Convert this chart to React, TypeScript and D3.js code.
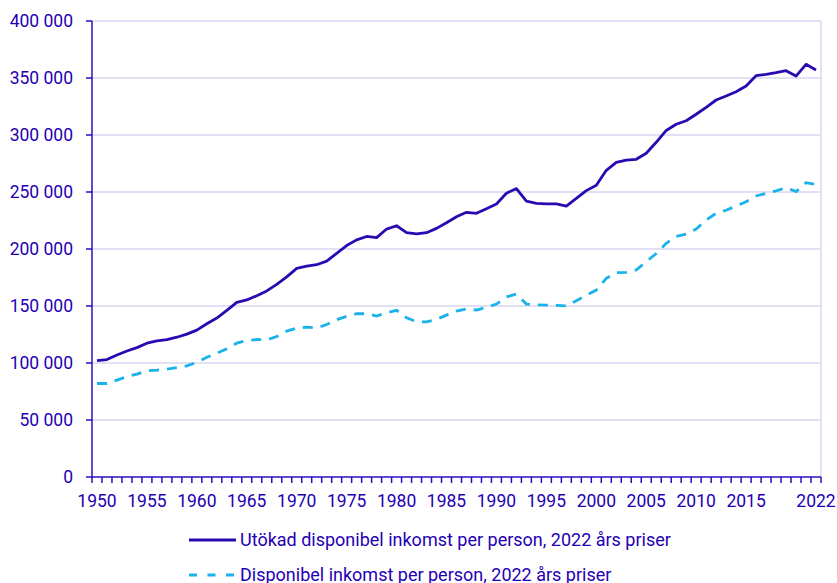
import React from "react";
import * as d3 from "d3";

const years: number[] = d3.range(1950, 2023);
const xTickLabels = ["1950","1955","1960","1965","1970","1975","1980","1985","1990","1995","2000","2005","2010","2015","2022"];
const yTicks = [0, 50000, 100000, 150000, 200000, 250000, 300000, 350000, 400000];

// Utökad disponibel inkomst per person (thousands SEK)
const extended = [
  102, 103, 107, 110.5, 113.5, 117.4, 119.4, 120.6, 122.6, 125.3,
  128.8, 134.4, 139.4, 146.2, 153.2, 155.3, 159, 163.2, 169, 175.6,
  183, 185, 186.2, 189.4, 196.2, 203, 208, 211, 210, 217.5,
  220.4, 214.3, 213.2, 214.3, 218.1, 223, 228.3, 232.2, 231.3, 235.4,
  239.5, 248.9, 253, 242, 240, 239.5, 239.5, 237.7, 244.4, 251.2,
  255.9, 269, 276, 278, 278.7, 284, 293.6, 304, 309.4, 312.5,
  318.2, 324.3, 330.7, 334.2, 338, 343, 352, 353.2, 354.7, 356.4,
  351.7, 362, 357
];
// Disponibel inkomst per person (thousands SEK)
const disposable = [
  82, 82, 85, 88, 90.3, 93.2, 93.8, 94.7, 95.9, 97.5,
  100.6, 105, 108.5, 112.4, 117.4, 119.7, 120.6, 120.3, 123.2, 128,
  130.6, 131.5, 130.6, 133.8, 137.9, 140.9, 143.2, 143.2, 141.2, 144,
  146.2, 139.7, 136.2, 136, 138.3, 142, 145.6, 147.4, 146.5, 148.8,
  151.7, 158, 160.5, 151.7, 151, 150.8, 150.5, 150, 154.7, 159.4,
  164, 174.3, 179.2, 179.5, 181.6, 188.9, 196, 205, 211, 213,
  217.5, 225.4, 231.3, 234, 237.7, 241.5, 246.5, 248.8, 251, 253.8,
  250.3, 258.2, 256.7
];
const seriesNames = [
  "Utökad disponibel inkomst per person, 2022 års priser",
  "Disponibel inkomst per person, 2022 års priser",
];

const W = 837, H = 583;
const left = 92, right = 821, top = 21, bottom = 477;
const textColor = "#2400b4";
const axisColor = "#2a0fc0";
const solidColor = "#2a0ab0";
const dashColor = "#1ab2ea";
const gridColor = "#d9d6f2";
const font = "Roboto, 'Noto Sans', sans-serif";
const fs = 17.5;
const legendFs = 18;

export default function App() {
  const x = d3.scaleBand<number>().domain(years).range([left, right]).paddingInner(0).paddingOuter(0);
  const y = d3.scaleLinear().domain([0, 400000]).range([bottom, top]);
  const cx = (yr: number) => (x(yr) as number) + x.bandwidth() / 2;
  const line = d3.line<number>().x((_, i) => cx(years[i])).y((v) => y(v * 1000));
  const boundaries = d3.range(0, years.length + 1).map((i) => left + i * x.bandwidth());

  return (
    <svg width={W} height={H} style={{ position: "absolute", left: 0, top: 0, background: "#fff" }} fontFamily={font}>
      {yTicks.filter((t) => t > 0).map((t) => (
        <line key={t} x1={left} x2={right} y1={y(t)} y2={y(t)} stroke={gridColor} strokeWidth={1.5} />
      ))}
      <line x1={right} x2={right} y1={top} y2={bottom} stroke={gridColor} strokeWidth={1.5} />
      {yTicks.map((t) => (
        <g key={"yl" + t}>
          <line x1={left - 6} x2={left} y1={y(t)} y2={y(t)} stroke={axisColor} strokeWidth={1.5} />
          <text x={73} y={y(t)} dy="0.35em" textAnchor="end" fontSize={fs} fill={textColor}>
            {d3.format(",")(t).replace(/,/g, " ")}
          </text>
        </g>
      ))}
      <line x1={left} x2={left} y1={top} y2={bottom} stroke={axisColor} strokeWidth={1.5} />
      <line x1={left} x2={right} y1={bottom} y2={bottom} stroke={axisColor} strokeWidth={1.5} />
      {boundaries.map((bx, i) => (
        <line key={"xt" + i} x1={bx} x2={bx} y1={bottom} y2={bottom + 6} stroke={axisColor} strokeWidth={1.5} />
      ))}
      {xTickLabels.map((lab) => (
        <text key={lab} x={cx(+lab)} y={507} textAnchor="middle" fontSize={fs} fill={textColor}>{lab}</text>
      ))}
      <path d={line(disposable) || ""} fill="none" stroke={dashColor} strokeWidth={2.8} strokeDasharray="10,8" />
      <path d={line(extended) || ""} fill="none" stroke={solidColor} strokeWidth={2.8} strokeLinejoin="round" />
      <line x1={189} x2={236} y1={540} y2={540} stroke={solidColor} strokeWidth={2.8} />
      <text x={240} y={540} dy="0.35em" fontSize={legendFs} fill={textColor}>{seriesNames[0]}</text>
      <line x1={189} x2={236} y1={575} y2={575} stroke={dashColor} strokeWidth={2.8} strokeDasharray="8,10.5" />
      <text x={240} y={574.5} dy="0.35em" fontSize={legendFs} fill={textColor}>{seriesNames[1]}</text>
    </svg>
  );
}
